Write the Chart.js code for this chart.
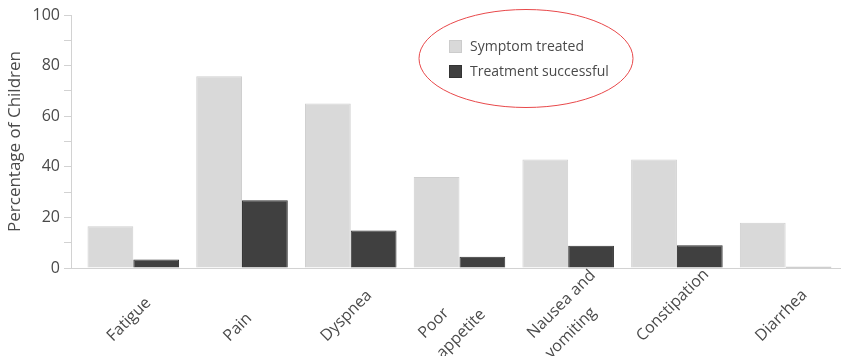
<!DOCTYPE html>
<html>
<head>
<meta charset="utf-8">
<script src="https://cdn.jsdelivr.net/npm/chart.js@4/dist/chart.umd.min.js"></script>
<style>
  html, body { margin: 0; padding: 0; background: #fff; }
  #wrap { width: 844px; height: 356px; position: relative; }
</style>
</head>
<body>
<div id="wrap"><canvas id="chart"></canvas></div>
<script>
// Symptoms (multi-line names are split into rows)
const categories = [
  ['Fatigue'],
  ['Pain'],
  ['Dyspnea'],
  ['Poor', 'appetite'],
  ['Nausea and', 'vomiting'],
  ['Constipation'],
  ['Diarrhea']
];
const seriesNames = ['Symptom treated', 'Treatment successful'];
const symptomTreated = [16.5, 75.8, 65.0, 36.0, 42.9, 42.9, 17.9];
const treatmentSuccessful = [3.4, 26.8, 14.8, 4.4, 8.8, 9.0, 0.5];
const yTicks = [0, 20, 40, 60, 80, 100];

const lightFill = '#d9d9d9';
const darkFill = '#404040';
const axisGray = '#d2d2d2';
const textColor = '#4a4a4a';
const FONT = '"Open Sans", "Noto Sans", sans-serif';

const toPoints = vals => vals.map((v, i) => ({ x: i, y: v }));

// Rotated category names, legend and the highlight ring around it
const decorations = {
  id: 'decorations',
  afterDraw(chart) {
    const ctx = chart.ctx;
    const xs = chart.scales.x;

    ctx.save();
    ctx.fillStyle = textColor;
    ctx.font = '16px ' + FONT;
    ctx.textAlign = 'left';
    ctx.textBaseline = 'alphabetic';
    const c = Math.SQRT1_2;
    categories.forEach((lines, i) => {
      const gc = xs.getPixelForValue(i);
      if (lines.length === 1) {
        const w = ctx.measureText(lines[0]).width;
        const sx = gc - 5 - (w * c - 8) / 2;
        ctx.save();
        ctx.translate(sx, 342);
        ctx.rotate(-Math.PI / 4);
        ctx.fillText(lines[0], 0, 0);
        ctx.restore();
      } else {
        lines.forEach((line, k) => {
          ctx.save();
          ctx.translate(gc - 35 + k * 18, 339 + k * 20);
          ctx.rotate(-Math.PI / 4);
          ctx.fillText(line, 0, 0);
          ctx.restore();
        });
      }
    });

    // legend
    const fills = [lightFill, darkFill];
    const borders = ['#cccccc', '#333333'];
    ctx.font = '14px ' + FONT;
    ctx.textBaseline = 'middle';
    seriesNames.forEach((name, k) => {
      const y = 40 + k * 25;
      ctx.fillStyle = fills[k];
      ctx.fillRect(449, y, 13, 13);
      ctx.strokeStyle = borders[k];
      ctx.lineWidth = 1;
      ctx.strokeRect(449.5, y + 0.5, 12, 12);
      ctx.fillStyle = textColor;
      ctx.fillText(name, 470, y + 7);
    });

    ctx.beginPath();
    ctx.ellipse(526, 58.5, 107, 49, 0, 0, Math.PI * 2);
    ctx.strokeStyle = '#e8484a';
    ctx.lineWidth = 1;
    ctx.stroke();
    ctx.restore();
  }
};

new Chart(document.getElementById('chart'), {
  type: 'bar',
  data: {
    datasets: [
      {
        label: seriesNames[0],
        data: toPoints(symptomTreated),
        backgroundColor: lightFill,
        borderColor: '#cfcfcf',
        borderWidth: 1
      },
      {
        label: seriesNames[1],
        data: toPoints(treatmentSuccessful),
        backgroundColor: darkFill,
        borderColor: '#333333',
        borderWidth: 1
      }
    ]
  },
  options: {
    responsive: true,
    maintainAspectRatio: false,
    animation: false,
    layout: { padding: { top: 15, right: 4, bottom: 0, left: 0 } },
    plugins: {
      legend: { display: false },
      tooltip: { enabled: false }
    },
    datasets: {
      bar: { categoryPercentage: 0.842, barPercentage: 1.0 }
    },
    scales: {
      x: {
        type: 'linear',
        offset: false,
        min: -0.573,
        max: 6.5,
        grid: { display: false, drawTicks: false },
        border: { display: true, color: axisGray, width: 1 },
        ticks: { display: false },
        afterBuildTicks(scale) {
          scale.ticks = categories.map((_, i) => ({ value: i }));
        },
        afterFit(scale) { scale.height = 88; }
      },
      y: {
        min: 0,
        max: 100,
        grid: {
          drawOnChartArea: false,
          drawTicks: true,
          tickLength: 7,
          color: axisGray
        },
        border: { display: true, color: axisGray, width: 1 },
        ticks: {
          stepSize: 10,
          padding: 4,
          color: textColor,
          font: { family: FONT, size: 16 },
          callback: v => (yTicks.includes(v) ? v : '')
        },
        title: {
          display: true,
          text: 'Percentage of Children',
          color: textColor,
          font: { family: FONT, size: 17 },
          padding: { top: 5, bottom: 0 }
        },
        afterFit(scale) { scale.width = 71; }
      }
    }
  },
  plugins: [decorations]
});
</script>
</body>
</html>
